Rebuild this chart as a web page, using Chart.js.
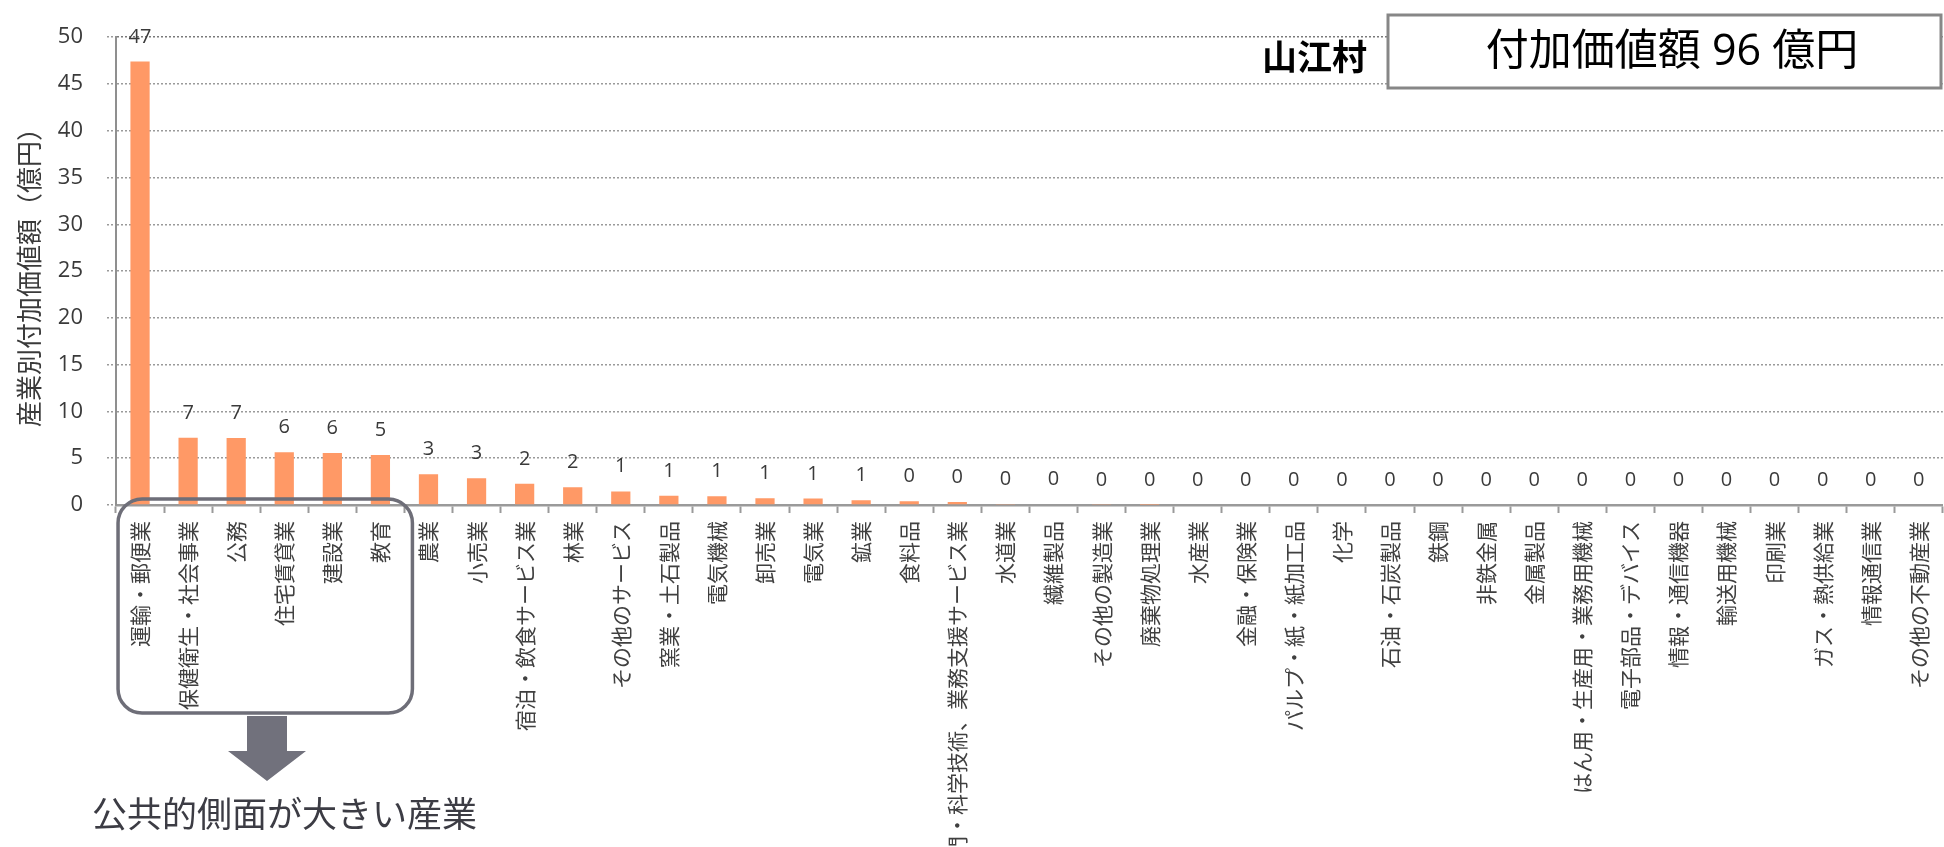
<!DOCTYPE html>
<html lang="ja">
<head>
<meta charset="utf-8">
<title>山江村 産業別付加価値額</title>
<script src="https://cdn.jsdelivr.net/npm/chart.js@4/dist/chart.umd.min.js"></script>
<style>
  html, body { margin: 0; padding: 0; background: #fff; overflow: hidden; }
  #wrap { position: relative; width: 1952px; height: 847px; }
</style>
</head>
<body>
<div id="wrap"><canvas id="bars"></canvas></div>
<script>
var industries = [
    '運輸・郵便業', '保健衛生・社会事業', '公務', '住宅賃貸業', '建設業', '教育',
    '農業', '小売業', '宿泊・飲食サービス業', '林業', 'その他のサービス', '窯業・土石製品',
    '電気機械', '卸売業', '電気業', '鉱業', '食料品', '専門・科学技術、業務支援サービス業',
    '水道業', '繊維製品', 'その他の製造業', '廃棄物処理業', '水産業', '金融・保険業',
    'パルプ・紙・紙加工品', '化学', '石油・石炭製品', '鉄鋼', '非鉄金属', '金属製品',
    'はん用・生産用・業務用機械', '電子部品・デバイス', '情報・通信機器', '輸送用機械', '印刷業',
    'ガス・熱供給業', '情報通信業', 'その他の不動産業'
];
// 億円
var addedValue = [
    47.4, 7.2, 7.17, 5.65, 5.55, 5.35,
    3.28, 2.86, 2.28, 1.9, 1.45, 1.0,
    0.93, 0.72, 0.69, 0.52, 0.41, 0.31,
    0.1, 0.07, 0.05, 0.03, 0, 0,
    0, 0, 0, 0, 0, 0,
    0, 0, 0, 0, 0,
    0, 0, 0
];
var yTicks = [0, 5, 10, 15, 20, 25, 30, 35, 40, 45, 50];

var village = '山江村';
var totalLabel = '付加価値額 96 億円';
var groupNote = '公共的側面が大きい産業';

var FONT = '"Open Sans", "Noto Sans CJK JP", sans-serif';
var JP = '"Noto Sans CJK JP", sans-serif';

// numbers over each bar
var valueLabels = {
    id: 'valueLabels',
    afterDatasetsDraw: function(chart) {
        var ctx = chart.ctx;
        var meta = chart.getDatasetMeta(0);
        ctx.save();
        ctx.font = '20px ' + FONT;
        ctx.fillStyle = '#3a3a3a';
        ctx.textAlign = 'center';
        ctx.textBaseline = 'alphabetic';
        meta.data.forEach(function(bar, i) {
            ctx.fillText(String(Math.round(addedValue[i])), bar.x, bar.y - 19);
        });
        ctx.restore();
    }
};

// village name, total box, and the bracket + arrow under the first six bars
var extras = {
    id: 'extras',
    afterDraw: function(chart) {
        var ctx = chart.ctx;
        var x = chart.scales.x;
        var area = chart.chartArea;
        ctx.save();

        ctx.font = 'bold 35px ' + JP;
        ctx.fillStyle = '#000';
        ctx.textAlign = 'right';
        ctx.textBaseline = 'middle';
        ctx.fillText(village, 1367, 57);

        ctx.fillStyle = '#fff';
        ctx.fillRect(1388, 15, 553, 73);
        ctx.strokeStyle = '#878787';
        ctx.lineWidth = 3;
        ctx.strokeRect(1388, 15, 553, 73);
        ctx.fillStyle = '#000';
        ctx.font = '43px ' + FONT;
        ctx.textAlign = 'center';
        ctx.fillText(totalLabel, 1672, 53);

        var left = x.getPixelForValue(0) - 22;
        var right = x.getPixelForValue(5) + 32;
        var top = area.bottom - 6;
        var bottom = 713;
        ctx.strokeStyle = '#6e6e78';
        ctx.lineWidth = 3.5;
        ctx.beginPath();
        ctx.roundRect(left, top, right - left, bottom - top, 24);
        ctx.stroke();

        var cx = 267;
        ctx.fillStyle = '#71717c';
        ctx.beginPath();
        ctx.moveTo(cx - 20, 716);
        ctx.lineTo(cx + 20, 716);
        ctx.lineTo(cx + 20, 751);
        ctx.lineTo(cx + 39, 751);
        ctx.lineTo(cx, 781);
        ctx.lineTo(cx - 39, 751);
        ctx.lineTo(cx - 20, 751);
        ctx.closePath();
        ctx.fill();

        ctx.fillStyle = '#3c3c44';
        ctx.font = '35px ' + JP;
        ctx.textAlign = 'left';
        ctx.textBaseline = 'middle';
        ctx.fillText(groupNote, 92, 814);

        ctx.restore();
    }
};

var ctx = document.getElementById('bars').getContext('2d');
var chart = new Chart(ctx, {
    type: 'bar',
    data: {
        labels: industries,
        datasets: [{
            label: '付加価値額',
            data: addedValue,
            backgroundColor: '#ff9966',
            borderWidth: 0,
            barPercentage: 0.4,
            categoryPercentage: 1.0
        }]
    },
    options: {
        responsive: true,
        maintainAspectRatio: false,
        animation: false,
        layout: {
            padding: { top: 24, left: 0, right: 0, bottom: 0 }
        },
        plugins: {
            legend: { display: false },
            tooltip: { enabled: false }
        },
        scales: {
            x: {
                offset: true,
                grid: {
                    offset: true,
                    drawOnChartArea: false,
                    tickLength: 8,
                    tickColor: '#9a9a9a',
                    tickWidth: 2
                },
                border: { color: '#9a9a9a', width: 2.5 },
                ticks: {
                    autoSkip: false,
                    minRotation: 90,
                    maxRotation: 90,
                    padding: 8,
                    color: '#404040',
                    font: { family: JP, size: 21 }
                },
                afterFit: function(s) { s.height = 342; }
            },
            y: {
                min: 0,
                max: 50,
                afterBuildTicks: function(s) {
                    s.ticks = yTicks.map(function(v) { return { value: v }; });
                },
                grid: {
                    color: function(c) { return c.tick && c.tick.value === 50 ? '#7a7a7a' : '#9a9a9a'; },
                    lineWidth: 1.5,
                    tickLength: 9,
                    tickColor: '#9a9a9a',
                    tickBorderDash: [2, 2]
                },
                border: { color: '#8f8f8f', width: 2, dash: [2, 2] },
                ticks: {
                    padding: 24,
                    color: '#3a3a3a',
                    font: { family: FONT, size: 22 }
                },
                title: {
                    display: true,
                    text: '産業別付加価値額（億円）',
                    color: '#3a3a3a',
                    font: { family: JP, size: 26 },
                    padding: { top: 14, bottom: 0 }
                },
                afterFit: function(s) { s.width = 116; }
            }
        }
    },
    plugins: [valueLabels, extras]
});
</script>
</body>
</html>
